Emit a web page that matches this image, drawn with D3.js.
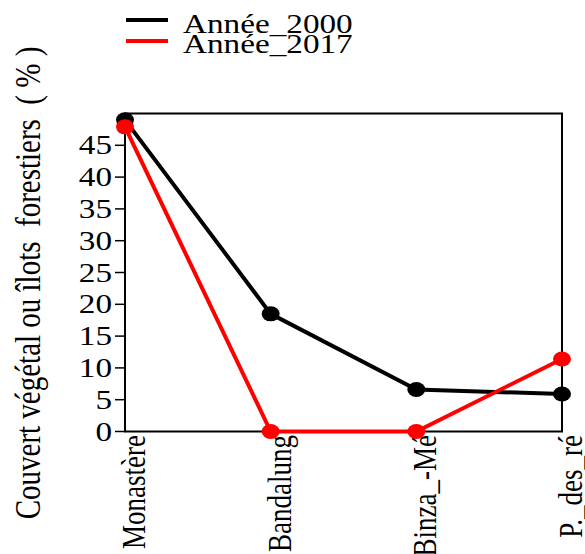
<!DOCTYPE html>
<html>
<head>
<meta charset="utf-8">
<script src="https://cdn.jsdelivr.net/npm/d3@7"></script>
<style>
  html, body { margin: 0; padding: 0; background: #fff; }
  svg { display: block; }
  svg text { font-family: "Liberation Serif", serif; }
</style>
</head>
<body>
<svg id="chart" width="585" height="554"></svg>
<script>
// Sites (labels abbreviated to nine characters)
const sites = ["Monastère", "Bandalung", "Binza_-Mé", "P._des_ré"];
// Vegetation / forest patch cover, in percent
const cover2000 = [49.0, 18.5, 6.6, 5.9];
const cover2017 = [47.9, 0, 0, 11.4];
const seriesNames = ["Année_2000", "Année_2017"];
const seriesColors = ["#000000", "#ff0000"];
const yTicks = [0, 5, 10, 15, 20, 25, 30, 35, 40, 45];
const yTitle = "Couvert végétal ou îlots  forestiers  ( % )";

const svg = d3.select("#chart");
const sx = 1.23; // horizontal glyph stretch

const plot = { left: 125, right: 562, top: 113.5, bottom: 431.5 };

const x = d3.scalePoint().domain(sites).range([plot.left, plot.right]);
const y = d3.scaleLinear().domain([0, 50]).range([plot.bottom, plot.top]);

// Frame
svg.append("rect")
  .attr("x", plot.left).attr("y", plot.top)
  .attr("width", plot.right - plot.left).attr("height", plot.bottom - plot.top)
  .attr("fill", "none").attr("stroke", "#000").attr("stroke-width", 2);

// Y axis ticks and labels, widened through textLength
const yAxis = svg.append("g");
yAxis.selectAll("line").data(yTicks).join("line")
  .attr("x1", plot.left - 10).attr("x2", plot.left)
  .attr("y1", d => y(d)).attr("y2", d => y(d))
  .attr("stroke", "#000").attr("stroke-width", 1.5);
yAxis.selectAll("text").data(yTicks).join("text")
  .attr("x", plot.left - 13)
  .attr("y", d => y(d) + 9)
  .attr("text-anchor", "end")
  .attr("font-size", 27)
  .text(d => d)
  .each(function () {
    const w = this.getComputedTextLength();
    d3.select(this).attr("textLength", w * sx).attr("lengthAdjust", "spacingAndGlyphs");
  });

// X axis labels, rotated
svg.append("g").selectAll("text").data(sites).join("text")
  .attr("transform", d => `translate(${x(d) + 20},435) scale(${sx},1) rotate(-90)`)
  .attr("text-anchor", "end")
  .attr("font-size", 27)
  .text(d => d);

// Y axis title
svg.append("text")
  .attr("transform", `translate(40,283) scale(${sx},1) rotate(-90)`)
  .attr("text-anchor", "middle")
  .style("white-space", "pre")
  .attr("font-size", 29)
  .text(yTitle);

// Series
const series = [cover2000, cover2017];
const line = d3.line().x((d, i) => x(sites[i])).y(d => y(d));
series.forEach((vals, k) => {
  const g = svg.append("g");
  g.append("path")
    .attr("d", line(vals))
    .attr("fill", "none")
    .attr("stroke", seriesColors[k])
    .attr("stroke-width", 4);
  g.selectAll("ellipse").data(vals).join("ellipse")
    .attr("cx", (d, i) => x(sites[i]))
    .attr("cy", d => y(d))
    .attr("rx", 9).attr("ry", 7.5)
    .attr("fill", seriesColors[k]);
});

// Legend
const legend = svg.append("g");
seriesNames.forEach((name, k) => {
  const ly = 20 + k * 21;
  legend.append("line")
    .attr("x1", 126).attr("x2", 168)
    .attr("y1", ly).attr("y2", ly)
    .attr("stroke", seriesColors[k]).attr("stroke-width", 4);
  const t = legend.append("text")
    .attr("x", 183)
    .attr("y", 33 + k * 20)
    .attr("font-size", 27)
    .text(name);
  const w = t.node().getComputedTextLength();
  t.attr("textLength", w * sx).attr("lengthAdjust", "spacingAndGlyphs");
});
</script>
</body>
</html>
